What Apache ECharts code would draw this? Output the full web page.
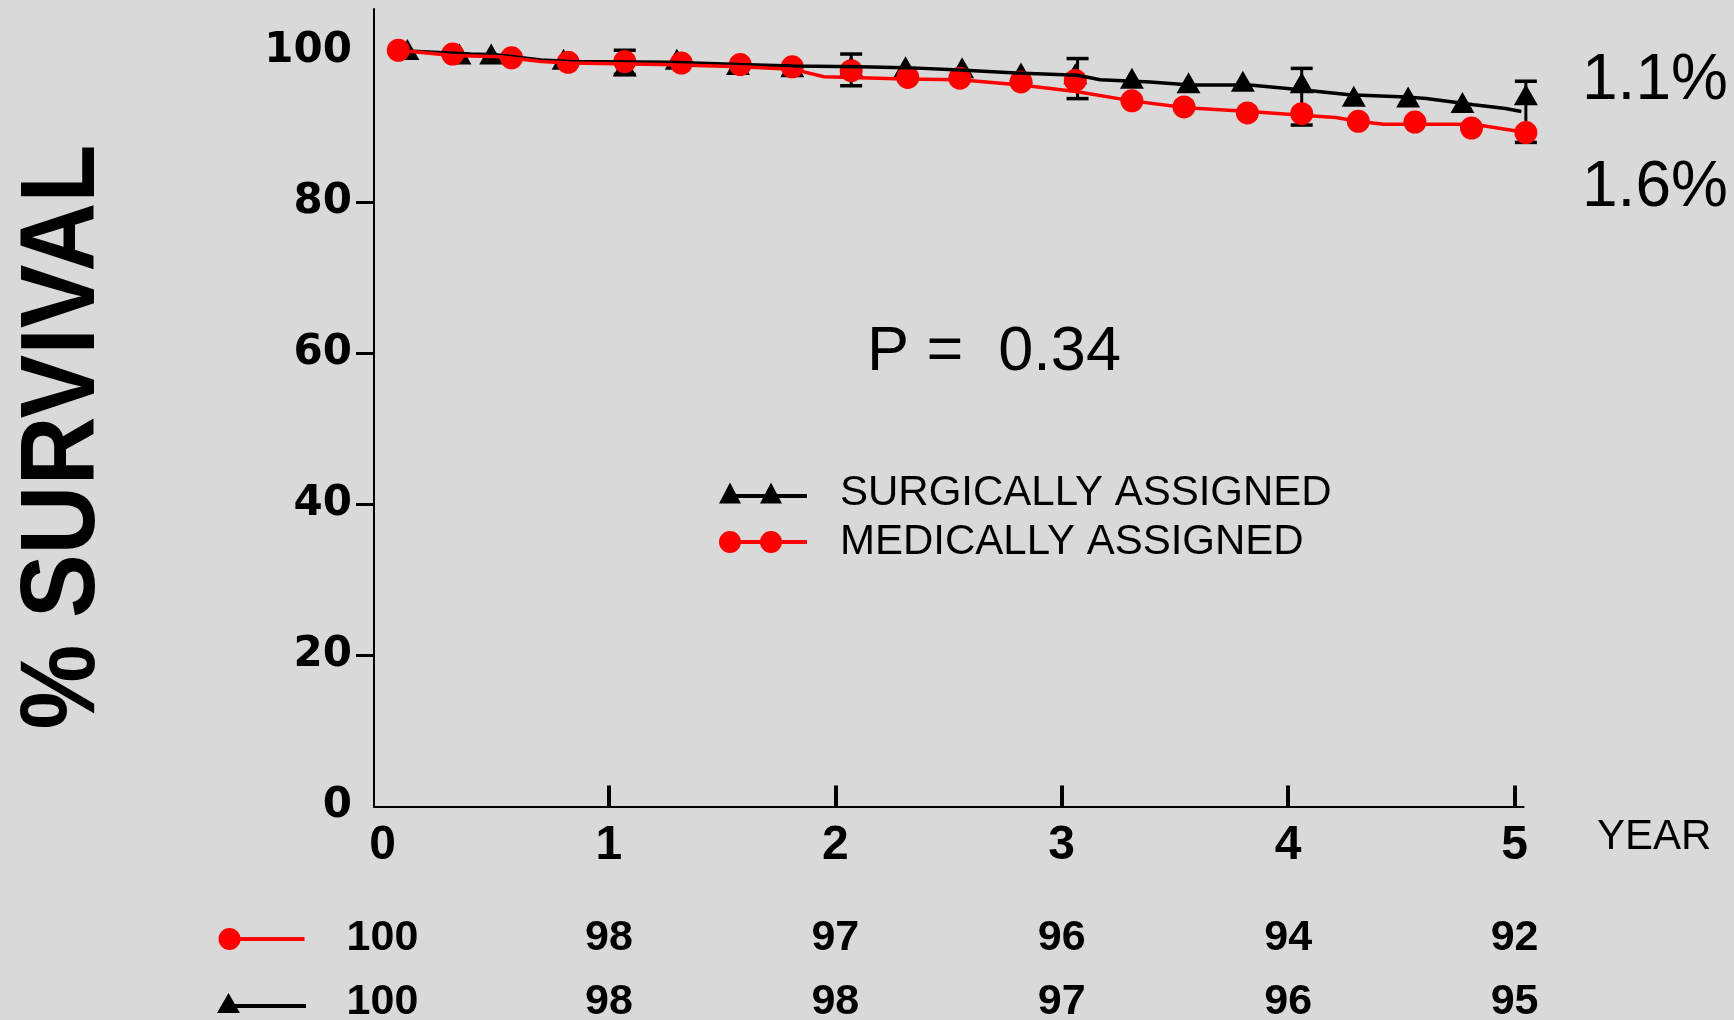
<!DOCTYPE html>
<html><head><meta charset="utf-8">
<script src="https://cdn.jsdelivr.net/npm/echarts@6/dist/echarts.min.js"></script>
<style>html,body{margin:0;padding:0;background:#d9d9d9}#c{width:1734px;height:1020px}</style>
</head><body><div id="c"></div>
<script>
// ---------- data ----------
const yearTicks = [0, 1, 2, 3, 4, 5];
const survivalTicks = [0, 20, 40, 60, 80, 100];
const medicalAtRisk = [100, 98, 97, 96, 94, 92];
const surgicalAtRisk = [100, 98, 98, 97, 96, 95];

const surgMarkX = [0.11,0.34,0.48,0.80,1.07,1.30,1.57,1.81,2.07,2.31,2.56,2.82,3.06,3.31,3.56,3.80,4.06,4.29,4.53,4.77,5.05];
const surgMarkY = [100.2,99.6,99.6,98.9,98.0,98.9,98.2,97.9,98.0,97.9,97.8,97.1,97.0,96.4,95.8,96.0,95.8,94.0,93.9,93.2,94.2];
const medMarkX = [0.07,0.31,0.57,0.82,1.07,1.32,1.58,1.81,2.07,2.32,2.55,2.82,3.06,3.31,3.54,3.82,4.06,4.31,4.56,4.81,5.05];
const medMarkY = [100.1,99.6,99.1,98.5,98.6,98.4,98.2,97.9,97.4,96.5,96.4,95.9,96.1,93.4,92.6,91.8,91.7,90.7,90.6,89.8,89.2];

const surgLineX = [0.11,0.39,0.50,0.70,0.83,1.27,1.58,1.81,2.11,2.31,2.55,2.80,3.07,3.17,3.39,3.57,3.83,4.08,4.27,4.52,4.61,4.82,4.96,5.03];
const surgLineY = [100.0,99.6,99.5,98.8,98.6,98.5,98.2,98.0,97.9,97.8,97.5,97.1,96.8,96.2,95.9,95.5,95.5,94.8,94.2,93.9,93.7,92.9,92.4,92.0];
const medLineX = [0.07,0.31,0.52,0.70,0.83,1.23,1.58,1.81,1.95,2.31,2.55,2.82,3.07,3.31,3.55,3.83,4.06,4.21,4.31,4.42,4.82,5.05];
const medLineY = [100.1,99.4,99.25,98.6,98.4,98.2,97.9,97.6,96.6,96.3,96.2,95.5,94.6,93.4,92.5,92.0,91.5,91.2,90.7,90.3,90.3,89.2];

const errX = [1.07, 2.07, 3.07, 4.06, 5.05];
const errHigh = [100.1, 99.6, 99.0, 97.7, 96.0];
const errLow = [96.9, 95.4, 93.7, 90.2, 87.9];

const surgName = 'SURGICALLY ASSIGNED';
const medName = 'MEDICALLY ASSIGNED';
const pText = 'P =  0.34';
const surgPct = '1.1%';
const medPct = '1.6%';

// ---------- build ----------
const zip = (a, b) => a.map((v, i) => [v, b[i]]);
const X_MIN = -0.0375, X_MAX = 5.04, Y_MIN = 0, Y_MAX = 105.56;

const triIconLegend = 'path://M0,21L11,0L22,21Z M41,21L52,0L63,21Z M15,11.5L88,11.5L88,15.5L15,15.5Z';
const circIconLegend = 'path://M0,11A11,11 0 1,1 22,11A11,11 0 1,1 0,11Z M41,11A11,11 0 1,1 63,11A11,11 0 1,1 41,11Z M11,9L88,9L88,13L11,13Z';
const triIconRisk = 'path://M0,20L11.5,0L23,20Z M18,11L89,11L89,15L18,15Z';
const circIconRisk = 'path://M0,11A11,11 0 1,1 22,11A11,11 0 1,1 0,11Z M11,9L86,9L86,13L11,13Z';

const riskAxis = (arr, margin) => ({
  type: 'value', gridIndex: 0, position: 'bottom', min: X_MIN, max: X_MAX,
  axisLine: {show: false}, axisTick: {show: false}, splitLine: {show: false},
  axisLabel: {
    customValues: yearTicks, margin: margin,
    formatter: v => String(arr[Math.round(v)]),
    fontFamily: 'Liberation Sans', fontWeight: 'bold', fontSize: 43, color: '#000'
  }
});

const chart = echarts.init(document.getElementById('c'), null, {renderer: 'canvas'});
chart.setOption({
  animation: false,
  backgroundColor: '#d9d9d9',
  grid: {left: 374, right: 210.4, top: 9, bottom: 213.5, containLabel: false, outerBoundsMode: 'none'},
  xAxis: [
    {
      type: 'value', min: X_MIN, max: X_MAX, position: 'bottom',
      axisLine: {show: true, onZero: false, lineStyle: {color: '#000', width: 2}},
      axisTick: {show: true, inside: true, length: 21, customValues: [1, 2, 3, 4, 5], lineStyle: {color: '#000', width: 4}},
      splitLine: {show: false},
      axisLabel: {customValues: yearTicks, margin: 15, fontFamily: 'Liberation Sans', fontWeight: 'bold', fontSize: 48, color: '#000'}
    },
    riskAxis(medicalAtRisk, 110),
    riskAxis(surgicalAtRisk, 174)
  ],
  yAxis: {
    type: 'value', min: Y_MIN, max: Y_MAX,
    axisLine: {show: true, onZero: false, lineStyle: {color: '#000', width: 2}},
    axisTick: {show: true, inside: false, length: 18, customValues: [20, 40, 60, 80], lineStyle: {color: '#000', width: 3}},
    splitLine: {show: false},
    axisLabel: {customValues: survivalTicks, margin: 22, fontFamily: 'DejaVu Sans', fontWeight: 'bold', fontSize: 42, color: '#000'}
  },
  legend: [
    {
      orient: 'vertical', left: 714, top: 465, itemWidth: 88, itemHeight: 22, itemGap: 3,
      selectedMode: false, symbolKeepAspect: true,
      itemStyle: {opacity: 1},
      textStyle: {fontFamily: 'Liberation Sans', fontSize: 42, color: '#000', lineHeight: 46, padding: [0, 0, 0, 28]},
      data: [{name: surgName, icon: triIconLegend}, {name: medName, icon: circIconLegend}]
    },
    {
      orient: 'vertical', left: 212, top: 923, itemWidth: 89, itemHeight: 22, itemGap: 43,
      selectedMode: false, symbolKeepAspect: true,
      itemStyle: {opacity: 1},
      formatter: () => '',
      textStyle: {fontSize: 10, lineHeight: 22},
      data: [{name: medName, icon: circIconRisk}, {name: surgName, icon: triIconRisk}]
    }
  ],
  series: [
    {
      name: 'surgLine', type: 'line', data: zip(surgLineX, surgLineY), showSymbol: false, clip: false,
      lineStyle: {color: '#000', width: 3.5}, itemStyle: {color: '#000'}, silent: true
    },
    {
      name: 'medLine', type: 'line', data: zip(medLineX, medLineY), showSymbol: false, clip: false,
      lineStyle: {color: '#ff0000', width: 3.5}, itemStyle: {color: '#ff0000'}, silent: true
    },
    {
      name: 'errorBars', type: 'custom', clip: false, silent: true,
      data: errX.map((x, i) => [x, errLow[i], errHigh[i]]),
      encode: {x: 0, y: [1, 2]},
      renderItem: (params, api) => {
        const top = api.coord([api.value(0), api.value(2)]);
        const bot = api.coord([api.value(0), api.value(1)]);
        const hw = 11;
        const st = {stroke: '#000', lineWidth: 3.5};
        return {
          type: 'group',
          children: [
            {type: 'line', shape: {x1: top[0], y1: top[1], x2: bot[0], y2: bot[1]}, style: {stroke: '#000', lineWidth: 3}},
            {type: 'line', shape: {x1: top[0] - hw, y1: top[1], x2: top[0] + hw, y2: top[1]}, style: st},
            {type: 'line', shape: {x1: bot[0] - hw, y1: bot[1], x2: bot[0] + hw, y2: bot[1]}, style: st}
          ]
        };
      }
    },
    {
      name: surgName, type: 'scatter', data: zip(surgMarkX, surgMarkY), clip: false,
      symbol: 'triangle', symbolSize: [24, 21], itemStyle: {color: '#000', borderWidth: 0, opacity: 1}
    },
    {
      name: medName, type: 'scatter', data: zip(medMarkX, medMarkY), clip: false,
      symbol: 'circle', symbolSize: 23, itemStyle: {color: '#ff0000', borderWidth: 0, opacity: 1}
    }
  ],
  graphic: [
    {type: 'text', x: 65, y: 437, rotation: Math.PI / 2, scaleX: 0.9,
     style: {text: '% SURVIVAL', fill: '#000', font: 'bold 106px "Liberation Sans"', align: 'center', verticalAlign: 'middle', textAlign: 'center', textVerticalAlign: 'middle'}},
    {type: 'text', x: 867, y: 353,
     style: {text: pText, fill: '#000', font: '63px "Liberation Sans"', align: 'left', verticalAlign: 'middle', textAlign: 'left', textVerticalAlign: 'middle'}},
    {type: 'text', x: 1582, y: 81,
     style: {text: surgPct, fill: '#000', font: '64px "Liberation Sans"', align: 'left', verticalAlign: 'middle', textAlign: 'left', textVerticalAlign: 'middle'}},
    {type: 'text', x: 1582, y: 188,
     style: {text: medPct, fill: '#000', font: '64px "Liberation Sans"', align: 'left', verticalAlign: 'middle', textAlign: 'left', textVerticalAlign: 'middle'}},
    {type: 'text', x: 1597, y: 837,
     style: {text: 'YEAR', fill: '#000', font: '42px "Liberation Sans"', align: 'left', verticalAlign: 'middle', textAlign: 'left', textVerticalAlign: 'middle'}}
  ]
});
</script></body></html>
